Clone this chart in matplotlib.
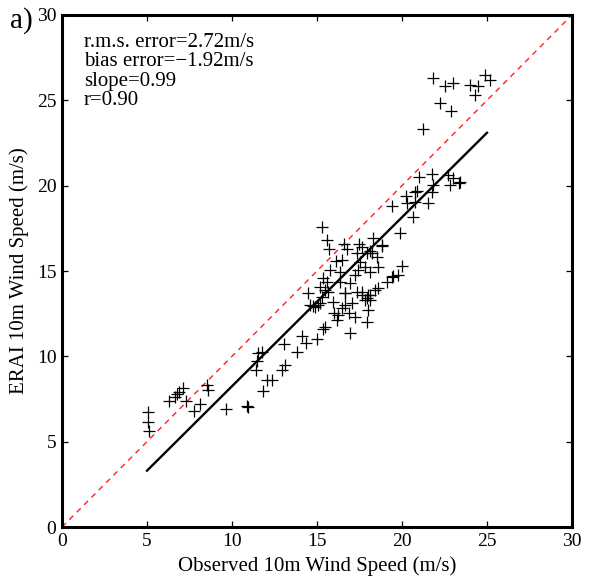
import numpy as np
import matplotlib
matplotlib.use('Agg')
import matplotlib.pyplot as plt

# observed vs ERAI 10m wind speed (m/s)
obs = [5.06, 5.06, 5.12, 6.29, 6.65, 6.76, 6.88, 7.12, 7.29, 7.76, 8.12, 8.53, 8.59, 9.65, 10.88, 10.94,
       11.82, 12.06, 12.35, 11.41, 11.47, 11.53, 11.76, 12.94, 13.12, 13.06, 13.82, 14.12, 14.35, 15.0,
       15.47, 15.35, 16.94, 17.94, 18.0, 17.24, 16.88, 16.18, 16.24, 16.0, 16.47, 16.65, 17.06, 15.94,
       14.59, 14.76, 15.18, 14.47, 15.29, 15.65, 16.65, 17.35, 17.65, 17.94, 18.12, 18.41, 18.59, 19.12,
       19.41, 19.47, 20.0, 19.76,
       15.29, 15.59, 16.59, 16.76, 17.47, 17.65, 18.29, 18.82, 18.12, 17.94, 18.24, 18.53, 17.35, 16.47,
       17.53, 17.82, 17.41, 17.24, 18.12, 18.59, 15.76, 16.35, 15.35, 15.59, 16.35, 16.94, 15.18, 15.47,
       16.65, 17.65, 18.0, 19.88, 18.82,
       14.9, 15.05, 17.8, 18.1, 15.7, 16.1,
       21.0, 21.76, 22.71, 23.0, 23.41, 23.35, 22.82, 21.82, 21.76, 20.88, 20.24, 19.41, 20.29, 20.76,
       21.53, 20.65, 20.76,
       21.82, 22.53, 23.0, 24.0, 24.47, 24.88, 25.18, 24.29, 22.24, 22.88, 21.24]
erai = [6.74, 6.15, 5.62, 7.38, 7.62, 7.79, 7.91, 8.14, 7.38, 6.8, 7.21, 8.32, 8.03, 6.91, 7.09, 7.03,
        7.97, 8.61, 8.61, 9.2, 9.72, 10.19, 10.25, 9.2, 9.49, 10.72, 10.25, 11.19, 10.78, 11.01,
        11.72, 11.6, 11.37, 12.01, 12.71, 12.3, 12.54, 12.13, 12.42, 12.54, 12.83, 13.01, 13.12, 13.18,
        13.01, 12.95, 13.12, 13.71, 13.47, 13.77, 13.71, 13.77, 13.59, 13.41, 13.59, 13.88, 14.0, 14.35,
        14.65, 14.7, 15.29, 14.76,
        17.57, 16.81, 16.58, 16.29, 16.58, 16.4, 16.93, 16.46, 16.17, 16.05, 16.05, 15.82, 16.05, 15.64,
        15.52, 15.23, 15.06, 14.76, 14.94, 15.23, 15.06, 14.94, 14.59, 14.35, 14.35, 14.29, 14.06, 13.88,
        13.71, 13.77, 13.59, 17.22, 16.52,
        12.9, 13.0, 13.3, 13.3, 16.3, 15.6,
        20.5, 20.68, 20.62, 20.45, 20.21, 20.15, 20.04, 20.04, 19.63, 19.68, 19.39, 18.8, 18.98, 19.04,
        18.98, 18.16, 19.63,
        26.3, 25.84, 26.01, 25.89, 25.84, 26.48, 26.19, 25.31, 24.84, 24.37, 23.32]

slope = 0.99
intercept = -1.65
fit_range = [5, 25]

stats = ['r.m.s. error=2.72m/s', 'bias error=\u22121.92m/s', 'slope=0.99', 'r=0.90']

plt.rcParams['font.family'] = ['Liberation Serif', 'DejaVu Serif']

fig = plt.figure(figsize=(5.89, 5.79), dpi=100)
ax = fig.add_axes([0.1053, 0.0898, 0.8658, 0.8843])

ax.plot([0, 30], [0, 30], color='#ff2020', linestyle=(0, (4, 3.5)), linewidth=1)
fx = np.array(fit_range)
ax.plot(fx, slope * fx + intercept, color='black', linewidth=1.7)
ax.plot(obs, erai, linestyle='none', marker='+', color='black', markersize=8, markeredgewidth=0.9)

ax.set_xlim(0, 30)
ax.set_ylim(0, 30)
ax.set_xticks(range(0, 31, 5))
ax.set_yticks(range(0, 31, 5))
ax.tick_params(direction='in', top=True, right=True, length=4.5, width=0.9, labelsize=14, pad=4)
for s in ax.spines.values():
    s.set_linewidth(2.2)

ax.set_xlabel('Observed 10m Wind Speed (m/s)', fontsize=15, labelpad=5)
ax.set_ylabel('ERAI 10m Wind Speed (m/s)', fontsize=15, labelpad=6)

for i, t in enumerate(stats):
    ax.text(0.043, 0.9375 - i * 0.038, t, transform=ax.transAxes, fontsize=15, va='baseline', ha='left')

fig.text(0.017, 0.9516, 'a)', fontsize=21, va='baseline', ha='left')

fig.savefig('out.png', dpi=100)
